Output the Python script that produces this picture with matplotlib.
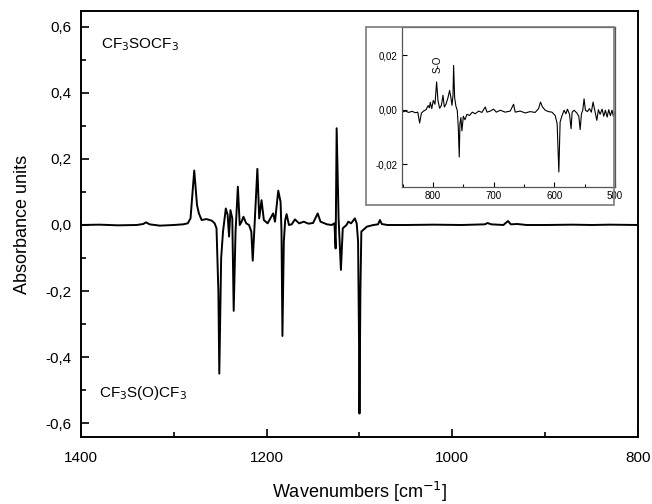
import numpy as np
import matplotlib.pyplot as plt
from matplotlib.ticker import FuncFormatter, MultipleLocator
from matplotlib.patches import Rectangle

plt.rcParams['font.family'] = ['Liberation Sans', 'DejaVu Sans']

# main difference spectrum (wavenumber, absorbance)
wn_main = [1400, 1380, 1360, 1340, 1333, 1330, 1326, 1315, 1300, 1290, 1285, 1282,
           1278, 1275, 1273, 1270, 1265, 1259, 1256, 1254, 1252, 1251, 1249, 1247,
           1244, 1242, 1240.5, 1239, 1237, 1235.5, 1233.5, 1231, 1229, 1227, 1225,
           1222, 1219, 1216.5, 1215, 1213, 1210, 1208, 1205.5, 1203, 1199, 1196,
           1193, 1191, 1187.5, 1185, 1184, 1183, 1181.5, 1180, 1178.5, 1176, 1173,
           1169.5, 1165, 1160, 1155, 1150, 1145, 1142, 1135, 1130, 1127, 1125.7,
           1124.6, 1122.5, 1120, 1118, 1114, 1112, 1109, 1105, 1103, 1101.5, 1100.5,
           1100, 1099, 1098, 1096, 1092, 1085, 1080, 1078, 1076, 1070, 1050, 1020,
           990, 965, 962, 958, 945, 940, 937, 930, 920, 900, 870, 850, 830, 800]
ab_main = [0.0, 0.001, -0.001, 0.0, 0.003, 0.008, 0.002, -0.002, 0.0, 0.002, 0.005, 0.02,
           0.165, 0.06, 0.035, 0.015, 0.018, 0.013, 0.005, -0.01, -0.2, -0.45, -0.1, -0.02,
           0.05, 0.03, -0.035, 0.045, 0.02, -0.26, -0.02, 0.116, 0.0, 0.01, 0.025,
           0.005, 0.0, -0.02, -0.108, 0.0, 0.17, 0.02, 0.075, 0.015, 0.005, 0.02,
           0.035, 0.01, 0.104, 0.07, -0.02, -0.336, -0.05, 0.015, 0.033, 0.0, 0.002,
           0.017, 0.005, 0.01, 0.004, 0.006, 0.035, 0.01, 0.002, 0.0, 0.005, -0.071,
           0.293, 0.02, -0.136, -0.01, 0.0, 0.01, 0.005, 0.02, 0.005, -0.05, -0.35,
           -0.571, -0.2, -0.02, -0.015, -0.005, 0.0, 0.002, 0.015, 0.003, 0.0, 0.0, 0.001,
           0.0, 0.002, 0.006, 0.002, 0.0, 0.012, 0.002, 0.003, 0.0, 0.0, 0.001, 0.0, 0.001, 0.0]

# inset: 850-500 cm-1 region
wn_ins = [851, 845.5, 840, 834.6, 829, 825, 822, 819, 815.4, 811.5, 808, 806, 804.4, 802,
          799.5, 796.7, 794, 791.8, 789, 786, 783.5, 781.3, 778.6, 775.3, 772.6, 770.4,
          768.7, 767, 766, 764.3, 762.1, 760, 758.3, 756.7, 755.6, 754, 752.3, 750,
          747.3, 744, 739.7, 735.3, 730.3, 724.8, 719.4, 713.9, 711, 705.6, 700, 695.6,
          689, 681, 672.7, 667.2, 664.5, 656.3, 648, 640, 631.6, 626, 622.8, 619.5, 615,
          609.7, 604, 598.7, 595.4, 592.6, 590.5, 587.7, 584, 581, 578.4, 575, 572.4,
          570.7, 567.4, 563, 559.7, 557.5, 555.3, 553.2, 551, 548.8, 545.5, 542.2, 539,
          536.2, 533.4, 530, 527.4, 524.6, 521.3, 518.6, 515.9, 513, 510.4, 507.7, 505,
          502.7, 500]
ab_ins = [-0.0009, -0.0005, -0.001, -0.0006, -0.0011, -0.0009, -0.0049, -0.0012, -0.0005, 0.0,
          0.0015, 0.0007, 0.0027, 0.0004, 0.0034, 0.002, 0.0102, 0.0034, 0.0005, 0.0017,
          0.0053, 0.001, 0.002, 0.0044, 0.0071, 0.0044, 0.0016, 0.0053, 0.0163, 0.0044,
          0.0012, -0.0002, -0.0064, -0.0174, -0.0051, -0.0029, -0.0078, -0.0024, -0.0037,
          -0.0017, -0.0021, -0.0009, -0.0015, -0.0005, -0.001, 0.001, -0.0009, -0.0005,
          0.0002, -0.0009, -0.0002, -0.0009, -0.0005, 0.002, -0.0009, -0.0005, -0.0012,
          -0.0007, -0.001, 0.0004, 0.0028, 0.001, -0.0002, -0.0007, -0.0009, -0.0021,
          -0.0051, -0.0229, -0.0045, -0.0024, -0.0002, -0.0015, 0.0002, -0.0017, -0.007,
          -0.0009, -0.0002, -0.0012, -0.0024, -0.0073, -0.0015, -0.0002, 0.004, -0.0002,
          -0.0007, 0.0004, -0.0009, 0.0028, -0.0002, -0.0039, 0.0, -0.0017, 0.0002,
          -0.0024, -0.0002, -0.0027, 0.0, -0.0022, -0.0002, -0.0024, -0.0009]

comma1 = FuncFormatter(lambda v, p: f'{v:.1f}'.replace('.', ','))
comma2 = FuncFormatter(lambda v, p: f'{v:.2f}'.replace('.', ','))

fig = plt.figure(figsize=(6.52, 5.04), dpi=100)
ax = fig.add_axes([0.1242, 0.1329, 0.8543, 0.8453])
ax.plot(wn_main, ab_main, color='black', lw=1.4)
ax.set_xlim(1400, 800)
ax.set_ylim(-0.642, 0.648)
ax.xaxis.set_major_locator(MultipleLocator(200))
ax.xaxis.set_minor_locator(MultipleLocator(100))
ax.yaxis.set_major_locator(MultipleLocator(0.2))
ax.yaxis.set_minor_locator(MultipleLocator(0.1))
ax.yaxis.set_major_formatter(comma1)
ax.tick_params(which='both', direction='in', labelsize=11, width=1.2, top=False, right=False)
ax.tick_params(which='major', length=6, pad=7)
ax.tick_params(axis='x', which='major', pad=10)
ax.tick_params(which='minor', length=3.5)
for s in ax.spines.values():
    s.set_linewidth(1.4)
ax.set_xlabel('Wavenumbers [cm$^{-1}$]', fontsize=13, labelpad=11)
ax.set_ylabel('Absorbance units', fontsize=13, labelpad=10)
ax.text(1378, 0.545, 'CF$_3$SOCF$_3$', fontsize=11, va='center', ha='left')
ax.text(1381, -0.51, 'CF$_3$S(O)CF$_3$', fontsize=11, va='center', ha='left')

# grey frame around the inset
fig.add_artist(Rectangle((0.5613, 0.5933), 0.3804, 0.3532, transform=fig.transFigure,
                         fill=False, edgecolor='#7a7a7a', lw=1.2))

ins = fig.add_axes([0.6166, 0.6296, 0.3267, 0.3168])
ins.plot(wn_ins, ab_ins, color='black', lw=0.8)
ins.set_xlim(851, 500)
ins.set_ylim(-0.0283, 0.0304)
ins.set_xticks([800, 700, 600, 500])
ins.xaxis.set_minor_locator(MultipleLocator(50))
ins.set_yticks([-0.02, 0.0, 0.02])
ins.yaxis.set_major_formatter(comma2)
ins.tick_params(which='both', direction='in', labelsize=7, width=0.8, top=False, right=False)
ins.tick_params(which='major', length=3.5, pad=3)
ins.tick_params(which='minor', length=2)
for s in ins.spines.values():
    s.set_linewidth(0.9)
    s.set_color('#555555')
ins.text(792.5, 0.0168, 'S-O', rotation=90, fontsize=7, ha='center', va='center')

fig.savefig('out.png', dpi=100)
